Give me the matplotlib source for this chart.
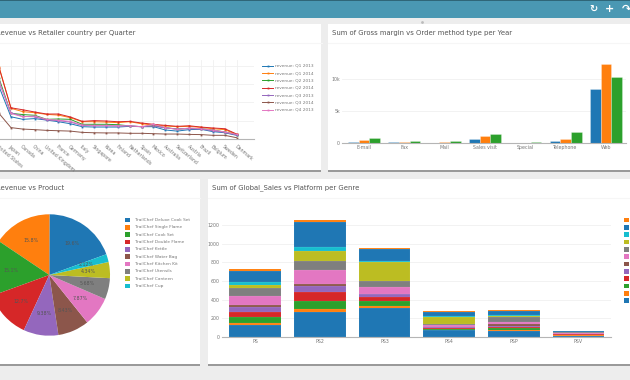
"""Dashboard: four chart cards below a teal top bar."""

import matplotlib
matplotlib.use("Agg")
import matplotlib.pyplot as plt
from matplotlib.patches import Rectangle
import numpy as np

W, H = 630, 380

TAB10 = ["#1f77b4", "#ff7f0e", "#2ca02c", "#d62728", "#9467bd",
         "#8c564b", "#e377c2", "#7f7f7f", "#bcbd22", "#17becf"]

# revenue per country, millions
COUNTRIES = ["United States", "Japan", "Canada", "China", "United Kingdom", "France",
             "Germany", "Italy", "Singapore", "Korea", "Finland", "Netherlands", "Spain",
             "Mexico", "Australia", "Switzerland", "Austria", "Brazil", "Belgium",
             "Sweden", "Denmark"]
Q1_2013 = [2.85, 1.21, 1.07, 1.11, 1.03, 0.94, 0.83, 0.67, 0.65, 0.65, 0.65, 0.69, 0.67,
           0.67, 0.49, 0.43, 0.51, 0.53, 0.40, 0.34, 0.20]
Q1_2014 = [3.93, 1.67, 1.49, 1.43, 1.34, 1.30, 1.16, 0.94, 0.94, 0.92, 0.89, 0.94, 0.83,
           0.76, 0.71, 0.67, 0.69, 0.63, 0.56, 0.51, 0.25]
Q2_2013 = [3.30, 1.40, 1.33, 1.29, 1.07, 1.09, 1.07, 0.80, 0.80, 0.80, 0.78, 0.71, 0.67,
           0.72, 0.62, 0.54, 0.58, 0.56, 0.49, 0.38, 0.24]
Q2_2014 = [3.88, 1.70, 1.59, 1.47, 1.36, 1.36, 1.20, 0.96, 1.00, 0.98, 0.94, 0.96, 0.87,
           0.80, 0.74, 0.69, 0.72, 0.65, 0.60, 0.56, 0.27]
Q3_2013 = [3.12, 1.43, 1.23, 1.21, 1.03, 1.00, 0.92, 0.74, 0.72, 0.72, 0.71, 0.71, 0.67,
           0.71, 0.60, 0.54, 0.56, 0.54, 0.45, 0.36, 0.22]
Q3_2014 = [1.39, 0.62, 0.54, 0.51, 0.47, 0.45, 0.43, 0.36, 0.34, 0.33, 0.33, 0.31, 0.31,
           0.29, 0.27, 0.27, 0.25, 0.24, 0.20, 0.20, 0.07]
Q4_2013 = [3.12, 1.39, 1.21, 1.25, 1.07, 1.02, 0.96, 0.76, 0.74, 0.74, 0.72, 0.72, 0.67,
           0.80, 0.62, 0.52, 0.60, 0.56, 0.49, 0.38, 0.25]
LINE_SERIES = [("revenue: Q1 2013", Q1_2013), ("revenue: Q1 2014", Q1_2014),
               ("revenue: Q2 2013", Q2_2013), ("revenue: Q2 2014", Q2_2014),
               ("revenue: Q3 2013", Q3_2013), ("revenue: Q3 2014", Q3_2014),
               ("revenue: Q4 2013", Q4_2013)]

# gross margin
ORDER_METHODS = ["E-mail", "Fax", "Mail", "Sales visit", "Special", "Telephone", "Web"]
MARGIN_2013 = [250, 200, 100, 620, 80, 300, 8400]
MARGIN_2014 = [450, 280, 180, 1200, 70, 650, 12400]
MARGIN_2015 = [800, 420, 330, 1450, 200, 1750, 10300]

# pie
PRODUCTS = ["TrailChef Deluxe Cook Set", "TrailChef Single Flame", "TrailChef Cook Set",
            "TrailChef Double Flame", "TrailChef Kettle", "TrailChef Water Bag",
            "TrailChef Kitchen Kit", "TrailChef Utensils", "TrailChef Canteen", "TrailChef Cup"]
SHARES = [19.6, 15.8, 15.1, 12.7, 9.38, 8.43, 7.87, 5.68, 4.34, 2.12]
SHARE_LABELS = ["19.6%", "15.8%", "15.1%", "12.7%", "9.38%", "8.43%", "7.87%",
                "5.68%", "4.34%", "2.12%"]

# global sales, rows are genres from the bottom of the stack up
PLATFORMS = ["PS", "PS2", "PS3", "PS4", "PSP", "PSV"]
GENRES = ["Action", "Adventure", "Fighting", "Misc", "Platform", "Puzzle", "Racing",
          "Role-Playing", "Shooter", "Simulation", "Sports", "Strategy"]
GENRE_SALES = [
    [126, 269, 305, 68, 57, 12],
    [22, 25, 25, 4, 11, 3],
    [68, 93, 50, 11, 22, 4],
    [47, 97, 47, 14, 11, 5],
    [61, 65, 29, 4, 10, 2],
    [18, 22, 7, 2, 22, 3],
    [100, 144, 68, 18, 29, 6],
    [79, 100, 72, 20, 46, 14],
    [40, 108, 198, 74, 18, 5],
    [25, 43, 14, 5, 8, 1],
    [122, 269, 126, 44, 44, 7],
    [18, 18, 11, 9, 14, 2],
]

TEXT = "#555555"
TICK = "#777777"
GRID = "#f0f0f0"
AXIS = "#b5b5b5"


def px_axes(fig, x0, y0, x1, y1):
    """Axes from pixel box, y counted from the top of the image."""
    ax = fig.add_axes([x0 / W, 1 - y1 / H, (x1 - x0) / W, (y1 - y0) / H])
    ax.set_zorder(5)
    ax.patch.set_visible(False)
    return ax


def draw_card(fig, x0, y0, x1, y1, title, title_x):
    fig.add_artist(Rectangle((x0 / W, 1 - (y1 + 1.5) / H), (x1 - x0) / W, (y1 - y0) / H,
                             transform=fig.transFigure, color="#9a9a9a", lw=0))
    fig.add_artist(Rectangle((x0 / W, 1 - y1 / H), (x1 - x0) / W, (y1 - y0) / H,
                             transform=fig.transFigure, color="white", lw=0))
    fig.add_artist(plt.Line2D([x0 / W, x1 / W], [1 - (y0 + 18.5) / H] * 2, color="#f6f6f6", lw=0.8))
    fig.text(title_x / W, 1 - (y0 + 9) / H, title, fontsize=4.95, color=TEXT, va="center")


def style_axes(ax):
    for side in ["top", "right", "left"]:
        ax.spines[side].set_visible(False)
    ax.spines["bottom"].set_color(AXIS)
    ax.spines["bottom"].set_linewidth(0.8)
    ax.set_axisbelow(True)
    ax.tick_params(length=0, labelsize=3.4, labelcolor=TICK, pad=1.5)


def swatch_legend(fig, x, y, colors, labels, text_x):
    for i, (color, label) in enumerate(zip(colors, labels)):
        yy = y + i * 7.33
        fig.add_artist(Rectangle((x / W, 1 - (yy + 2.4) / H), 4.8 / W, 4.8 / H,
                                 transform=fig.transFigure, color=color, lw=0))
        fig.text(text_x / W, 1 - yy / H, label, fontsize=3.1, color=TICK, va="center")


def plot_lines(fig):
    ax = px_axes(fig, -12, 60, 254, 139)
    style_axes(ax)
    for (label, values), color in zip(LINE_SERIES, TAB10):
        ax.plot(range(len(COUNTRIES)), values, color=color, lw=0.7, marker="s", ms=1.3, mew=0)
    ax.set_xlim(-0.93, 21.46)
    ax.set_ylim(0, 4.3)
    ax.set_yticks([1, 2, 3, 4])
    ax.set_yticklabels([])
    ax.set_xticks(range(len(COUNTRIES)))
    ax.set_xticklabels(COUNTRIES, rotation=-40, ha="left", rotation_mode="anchor")
    ax.tick_params(axis="x", pad=3.5)
    ax.grid(True, color=GRID, lw=0.6)
    for i, (label, values) in enumerate(LINE_SERIES):
        yy = 65.7 + i * 7.33
        fig.add_artist(plt.Line2D([262 / W, 273 / W], [1 - yy / H] * 2, color=TAB10[i], lw=0.7))
        fig.add_artist(plt.Line2D([267.5 / W], [1 - yy / H], color=TAB10[i], marker="s", ms=1.3, mew=0))
        fig.text(275 / W, 1 - yy / H, label, fontsize=3.1, color=TICK, va="center")


def plot_margin(fig):
    ax = px_axes(fig, 342, 60, 626, 143.3)
    style_axes(ax)
    x = np.arange(len(ORDER_METHODS))
    width = 0.265
    for i, values in enumerate([MARGIN_2013, MARGIN_2014, MARGIN_2015]):
        ax.bar(x + (i - 1) * width, values, width, color=TAB10[i],
               edgecolor=(1, 1, 1, 0.45), lw=0.4)
    ax.set_xlim(-0.546, 6.5)
    ax.set_ylim(0, 13000)
    ax.set_xticks(x)
    ax.set_xticklabels(ORDER_METHODS)
    ax.set_yticks([0, 5000, 10000])
    ax.set_yticklabels(["0", "5k", "10k"])
    ax.yaxis.grid(True, color=GRID, lw=0.6)


def plot_pie(fig):
    r = 60.7
    ax = px_axes(fig, 49.3 - r, 275 - r, 49.3 + r, 275 + r)
    ax.pie(SHARES, colors=TAB10, startangle=20, radius=1, counterclock=True,
           labels=SHARE_LABELS, labeldistance=0.64,
           textprops=dict(fontsize=3.4, color="#555555", ha="center", va="center"))
    ax.set_xlim(-1, 1)
    ax.set_ylim(-1, 1)
    swatch_legend(fig, 125.3, 220, TAB10, PRODUCTS, 135.3)


def plot_sales(fig):
    ax = px_axes(fig, 221.7, 210, 610.7, 336.7)
    style_axes(ax)
    x = np.arange(len(PLATFORMS))
    bottom = np.zeros(len(PLATFORMS))
    colors = [TAB10[i % 10] for i in range(len(GENRES))]
    for values, color in zip(GENRE_SALES, colors):
        ax.bar(x, values, 0.8, bottom=bottom, color=color,
               edgecolor=(1, 1, 1, 0.15), lw=0.3)
        bottom += np.array(values)
    ax.set_xlim(-0.52, 5.5)
    ax.set_ylim(0, 126.7 / 0.0928)
    ax.set_xticks(x)
    ax.set_xticklabels(PLATFORMS)
    ax.set_yticks([0, 200, 400, 600, 800, 1000, 1200])
    ax.yaxis.grid(True, color=GRID, lw=0.6)
    swatch_legend(fig, 624, 220, colors[::-1], GENRES[::-1], 634)


fig = plt.figure(figsize=(W / 100, H / 100), dpi=100, facecolor="#ededed")

# top bar
fig.add_artist(Rectangle((0, 1 - 18 / H), 1, 18 / H, transform=fig.transFigure, color="#4a98b3", lw=0))
fig.add_artist(Rectangle((0, 1 - 1 / H), 1, 1 / H, transform=fig.transFigure, color="#2f6678", lw=0))
fig.text(593 / W, 1 - 9 / H, "\u21bb", fontsize=7, color="white", ha="center", va="center", fontweight="bold")
fig.text(610 / W, 1 - 9 / H, "+", fontsize=8, color="white", ha="center", va="center", fontweight="bold")
fig.text(626 / W, 1 - 9 / H, "\u21b7", fontsize=8, color="white", ha="center", va="center", fontweight="bold")
fig.add_artist(plt.Line2D([422 / W], [1 - 21.5 / H], color="#bbbbbb", marker="o", ms=2, mew=0))

draw_card(fig, -10, 24, 321.5, 170, "Revenue vs Retailer country per Quarter", -4.5)
draw_card(fig, 328, 24, 640, 170, "Sum of Gross margin vs Order method type per Year", 332.5)
draw_card(fig, -10, 179, 199.5, 364, "Revenue vs Product", -4.5)
draw_card(fig, 208, 179, 640, 364, "Sum of Global_Sales vs Platform per Genre", 212)

plot_lines(fig)
plot_margin(fig)
plot_pie(fig)
plot_sales(fig)

fig.savefig("out.png", dpi=100, facecolor=fig.get_facecolor())
plt.close(fig)
